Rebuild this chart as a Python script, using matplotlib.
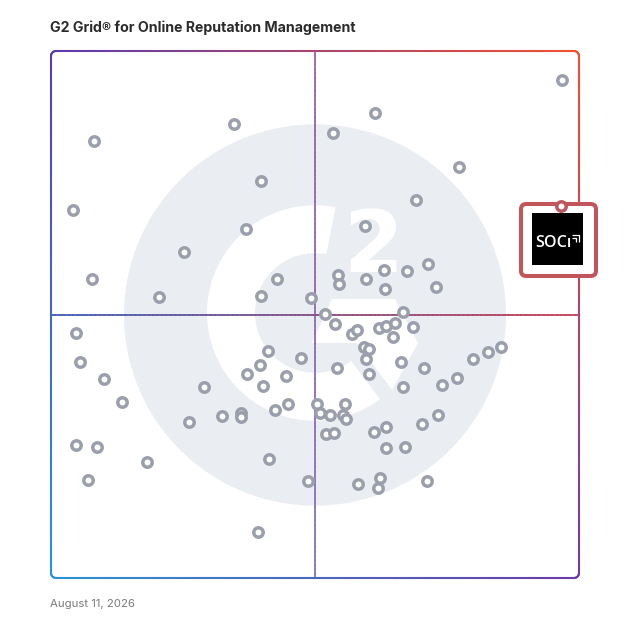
"""G2 Grid for Online Reputation Management - scatter recreation."""
import matplotlib
matplotlib.use('Agg')
import matplotlib.pyplot as plt
import numpy as np
from matplotlib.collections import LineCollection
from matplotlib.patches import Circle, Wedge, Polygon, FancyBboxPatch, Rectangle

TITLE = "G2 Grid\u00ae for Online Reputation Management"
DATE_LABEL = "August 11, 2026"

# Satisfaction (x) and Market Presence (y), both on a 0-100 scale
satisfaction = [
    96.8, 61.4, 34.7, 53.4, 8.1, 77.3, 39.8, 4.2, 69.1, 36.9,
    59.5, 25.2, 54.4, 54.5, 59.7, 63.1, 67.4, 71.4, 63.3, 72.9,
    7.8, 42.8, 39.8, 49.2, 20.5, 51.9, 53.8, 66.7, 57.0, 58.0,
    62.1, 63.4, 65.2, 68.6, 64.8, 4.7, 59.3, 60.2, 59.7, 5.5,
    41.1, 47.3, 39.6, 66.3, 70.6, 79.9, 82.8, 85.2, 10.0, 54.2,
    60.2, 37.1, 44.5, 40.2, 29.0, 66.7, 76.9, 74.1, 13.4, 50.4,
    44.9, 42.4, 55.7, 50.9, 52.8, 55.3, 55.9, 36.0, 36.0, 32.4,
    26.1, 73.3, 70.3, 63.4, 61.2, 52.1, 53.6, 4.7, 8.7, 63.4,
    67.0, 41.3, 18.2, 7.0, 48.7, 58.1, 62.3, 61.9, 71.2, 39.2,
]
market_presence = [
    94.5, 88.2, 86.1, 84.4, 82.9, 78.0, 75.3, 69.8, 71.7, 66.2,
    66.8, 61.9, 57.5, 55.8, 56.7, 58.4, 58.3, 59.6, 54.8, 55.2,
    56.7, 56.7, 53.5, 53.1, 53.3, 50.1, 48.2, 50.5, 46.3, 47.1,
    47.4, 47.8, 48.4, 47.6, 45.7, 46.5, 43.8, 43.5, 41.6, 41.0,
    43.1, 41.7, 40.4, 41.0, 39.8, 41.6, 42.9, 43.8, 37.8, 39.8,
    38.7, 38.7, 38.3, 36.4, 36.2, 36.2, 38.0, 36.6, 33.4, 33.0,
    33.0, 31.9, 33.0, 31.3, 30.9, 30.9, 30.2, 31.3, 30.6, 30.7,
    29.6, 30.9, 29.2, 28.7, 27.7, 27.3, 27.5, 25.2, 24.9, 24.7,
    24.9, 22.6, 22.0, 18.6, 18.4, 17.8, 19.0, 17.1, 18.4, 8.7,
]

highlight_name = "SOCi"
highlight_x = 96.6
highlight_y = 70.6

# corner colours of the gradient frame
TL = np.array([0x5a, 0x3c, 0xae]) / 255
TR = np.array([0xf4, 0x50, 0x2e]) / 255
BL = np.array([0x29, 0x93, 0xda]) / 255
BR = np.array([0x6b, 0x3b, 0xa9]) / 255

POINT_GREY = "#9a9fab"
CALLOUT_RED = "#c0565c"


def frame_color(x, y):
    u, v = x / 100.0, y / 100.0
    top = TL * (1 - u) + TR * u
    bot = BL * (1 - u) + BR * u
    return np.clip(bot * (1 - v) + top * v, 0, 1)


def gradient_line(ax, xs, ys, colors, lw, z, alpha=1.0):
    pts = np.column_stack([xs, ys])
    segs = np.stack([pts[:-1], pts[1:]], axis=1)
    lc = LineCollection(segs, colors=colors, linewidths=lw, zorder=z,
                        capstyle='round', alpha=alpha, clip_on=False)
    ax.add_collection(lc)


def rounded_rect_path(r, n=40):
    xs, ys = [], []
    corners = [((100 - r, r), -90, 0), ((100 - r, 100 - r), 0, 90),
               ((r, 100 - r), 90, 180), ((r, r), 180, 270)]
    for (cx, cy), a0, a1 in corners:
        t = np.radians(np.linspace(a0, a1, 8))
        xs.extend(cx + r * np.cos(t))
        ys.extend(cy + r * np.sin(t))
    xs.append(xs[0])
    ys.append(ys[0])
    # densify straight edges so the gradient is smooth
    fx, fy = [], []
    for i in range(len(xs) - 1):
        k = n if abs(xs[i + 1] - xs[i]) + abs(ys[i + 1] - ys[i]) > 5 else 2
        fx.extend(np.linspace(xs[i], xs[i + 1], k)[:-1])
        fy.extend(np.linspace(ys[i], ys[i + 1], k)[:-1])
    fx.append(xs[-1])
    fy.append(ys[-1])
    return np.array(fx), np.array(fy)


def px(x, y):
    """pixel position on the 628px canvas -> data units of the grid"""
    return ((x - 51) / 5.28, (578 - y) / 5.27)


fig = plt.figure(figsize=(6.28, 6.28), dpi=100)
ax = fig.add_axes([51 / 628, 50 / 628, 528 / 628, 527 / 628])
ax.set_xlim(0, 100)
ax.set_ylim(0, 100)
ax.axis('off')

# --- G2 watermark ---
cx, cy = px(315, 313)
ax.add_patch(Circle(px(315, 315), 191 / 5.28, color="#eaedf1", zorder=0, lw=0))
ax.add_patch(Wedge((cx, cy), 108 / 5.28, 79, 307, width=48 / 5.28,
                   color="white", zorder=0.5, lw=0))
chevron = [px(332, 299), px(395, 299), px(418, 343), px(392, 390),
           px(357, 343), px(312, 343)]
ax.add_patch(Polygon(chevron, closed=True, color="white", zorder=0.5, lw=0))
ax.text(*px(373, 249), "2", color="white", fontsize=62, fontweight='bold',
        ha='center', va='center', zorder=0.5, family="DejaVu Sans")

# --- quadrant lines ---
t = np.linspace(0, 100, 120)
v_cols = [np.array([0x88, 0x74, 0xc4]) / 255 * (1 - s / 100) +
          np.array([0x9c, 0x62, 0xa2]) / 255 * (s / 100) for s in t]
gradient_line(ax, np.full_like(t, 50), t, v_cols, 1.3, 1)
h_cols = [np.array([0x42, 0x5e, 0xb6]) / 255 * (1 - s / 100) +
          np.array([0xc8, 0x40, 0x55]) / 255 * (s / 100) for s in t]
gradient_line(ax, t, np.full_like(t, 50), h_cols, 1.3, 1)

# --- vendors ---
ax.scatter(satisfaction, market_presence, s=46, facecolor="white",
           edgecolor=POINT_GREY, linewidths=2.5, zorder=3)

# --- gradient frame ---
fx, fy = rounded_rect_path(0.95)
mx, my = (fx[:-1] + fx[1:]) / 2, (fy[:-1] + fy[1:]) / 2
gradient_line(ax, fx, fy, [frame_color(a, b) for a, b in zip(mx, my)], 1.5, 4)

# --- highlighted vendor callout ---
bx0, by0 = px(521, 276)
bx1, by1 = px(596, 204)
ax.add_patch(FancyBboxPatch((bx0, by0), bx1 - bx0, by1 - by0,
                            boxstyle="round,pad=0,rounding_size=1.0",
                            facecolor="white", edgecolor=CALLOUT_RED,
                            linewidth=2.9, zorder=5, clip_on=False))
lx0, ly0 = px(532, 265)
lx1, ly1 = px(583, 213)
ax.add_patch(Rectangle((lx0, ly0), lx1 - lx0, ly1 - ly0, facecolor="black",
                       lw=0, zorder=6, clip_on=False))
ax.text(*px(553, 243), "SOC\u0131", color="white", fontsize=11.5,
        fontweight='semibold', ha='center', va='center', zorder=7,
        family="Open Sans")
for (a, b, c) in [((572, 235), (579, 235), (579, 242)),
                  ((572, 238), (576, 238), (576, 242))]:
    ax.plot(*zip(px(*a), px(*b), px(*c)), color="white", lw=0.9, zorder=7,
            clip_on=False, solid_capstyle='butt')
ax.scatter([highlight_x], [highlight_y], s=46, facecolor="white",
           edgecolor=CALLOUT_RED, linewidths=2.5, zorder=8, clip_on=False)

# --- texts ---
fig.text(50 / 628, 1 - 28 / 628, TITLE, fontsize=10.2, fontweight='bold',
         color="#2b2b2b", ha='left', va='center', family="Inter")
fig.text(50 / 628, 1 - 604 / 628, DATE_LABEL, fontsize=8.2, color="#7a7a7a",
         ha='left', va='center', family="Inter")

fig.savefig("out.png", dpi=100, facecolor="white")
